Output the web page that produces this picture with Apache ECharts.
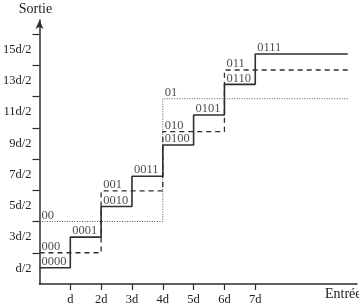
<!DOCTYPE html>
<html>
<head>
<meta charset="utf-8">
<script src="https://cdn.jsdelivr.net/npm/echarts@6/dist/echarts.min.js"></script>
<style>html,body{margin:0;padding:0;background:#fff}#c{width:359px;height:306px}</style>
</head>
<body>
<div id="c"></div>
<script>
// ---- data ----
const xTickValues = [1, 2, 3, 4, 5, 6, 7];
const xTickLabels = ['d', '2d', '3d', '4d', '5d', '6d', '7d'];
const yTickValues = [1, 2, 3, 4, 5, 6, 7, 8];
const yLabelValues = [0.5, 1.5, 2.5, 3.5, 4.5, 5.5, 6.5, 7.5];
const yLabelTexts = ['d/2', '3d/2', '5d/2', '7d/2', '9d/2', '11d/2', '13d/2', '15d/2'];

const steps4 = [0, 1, 2, 3, 4, 5, 6, 7];
const levels4 = [0.52, 1.5, 2.48, 3.45, 4.45, 5.41, 6.39, 7.36];
const codes4 = ['0000', '0001', '0010', '0011', '0100', '0101', '0110', '0111'];

const steps3 = [0, 2, 4, 6];
const levels3 = [1.0, 2.98, 4.88, 6.85];
const codes3 = ['000', '001', '010', '011'];

const steps2 = [0, 4];
const levels2 = [2.0, 5.93];
const codes2 = ['00', '01'];

const xEnd = 10;
const xMax = 10.3;
const yMax = 8.45;
const xTitle = 'Entrée';
const yTitle = 'Sortie';

// ---- helpers ----
const FONT = "'Liberation Serif','Times New Roman',serif";
const INK = '#2e2e2e';
function stairs(steps, levels) {
  const d = steps.map((x, i) => [x, levels[i]]);
  d.push([xEnd, levels[levels.length - 1]]);
  return d;
}
function codeLabels(steps, levels, codes) {
  return steps.map((x, i) => ({ value: [x, levels[i]], name: codes[i] }));
}
function labelSeries(steps, levels, codes) {
  return {
    type: 'scatter', symbolSize: 1, itemStyle: { color: 'transparent' },
    data: codeLabels(steps, levels, codes),
    label: {
      show: true, formatter: p => p.name, position: [2.5, 1],
      align: 'left', verticalAlign: 'bottom',
      fontFamily: FONT, fontSize: 12.5, color: '#222'
    },
    silent: true, z: 5
  };
}

const chart = echarts.init(document.getElementById('c'), null, { renderer: 'canvas' });
chart.setOption({
  animation: false,
  grid: { left: 36, right: 2, top: 20, bottom: 21.5 },
  graphic: [{
    type: 'text', x: 325, y: 287, z: 10,
    style: { text: xTitle, font: "14px 'Liberation Serif','Times New Roman',serif", fill: '#222' }
  }],
  xAxis: {
    type: 'value', min: 0, max: xMax,
    axisLine: { show: true, lineStyle: { color: INK, width: 1.5 } },
    axisTick: { show: true, length: 6, customValues: xTickValues, lineStyle: { color: INK, width: 1.2 } },
    axisLabel: {
      customValues: xTickValues, margin: 9,
      formatter: v => xTickLabels[xTickValues.indexOf(Math.round(v))] || '',
      fontFamily: FONT, fontSize: 12.5, color: '#222'
    },
    splitLine: { show: false }
  },
  yAxis: {
    type: 'value', min: 0, max: yMax,
    name: yTitle, nameLocation: 'end', nameGap: 4,
    nameTextStyle: { fontFamily: FONT, fontSize: 14, color: '#222', padding: [0, 8, 0, 0] },
    axisLine: { show: true, symbol: ['none', 'arrow'], symbolSize: [6, 9], lineStyle: { color: INK, width: 1.5 } },
    axisTick: { show: true, length: 7, customValues: yTickValues, lineStyle: { color: INK, width: 1.2 } },
    axisLabel: {
      customValues: yLabelValues, margin: 8,
      formatter: v => yLabelTexts[yLabelValues.indexOf(v)] || '',
      fontFamily: FONT, fontSize: 12.5, color: '#222'
    },
    splitLine: { show: false }
  },
  series: [
    { type: 'line', step: 'end', symbol: 'none', data: stairs(steps2, levels2),
      lineStyle: { color: '#555', width: 1, type: [1, 1.5] }, z: 2 },
    { type: 'line', step: 'end', symbol: 'none', data: stairs(steps3, levels3),
      lineStyle: { color: INK, width: 1.3, type: [5, 4] }, z: 3 },
    { type: 'line', step: 'end', symbol: 'none', data: stairs(steps4, levels4),
      lineStyle: { color: INK, width: 1.6 }, z: 4 },
    labelSeries(steps4, levels4, codes4),
    labelSeries(steps3, levels3, codes3),
    labelSeries(steps2, levels2, codes2)
  ]
});
</script>
</body>
</html>
